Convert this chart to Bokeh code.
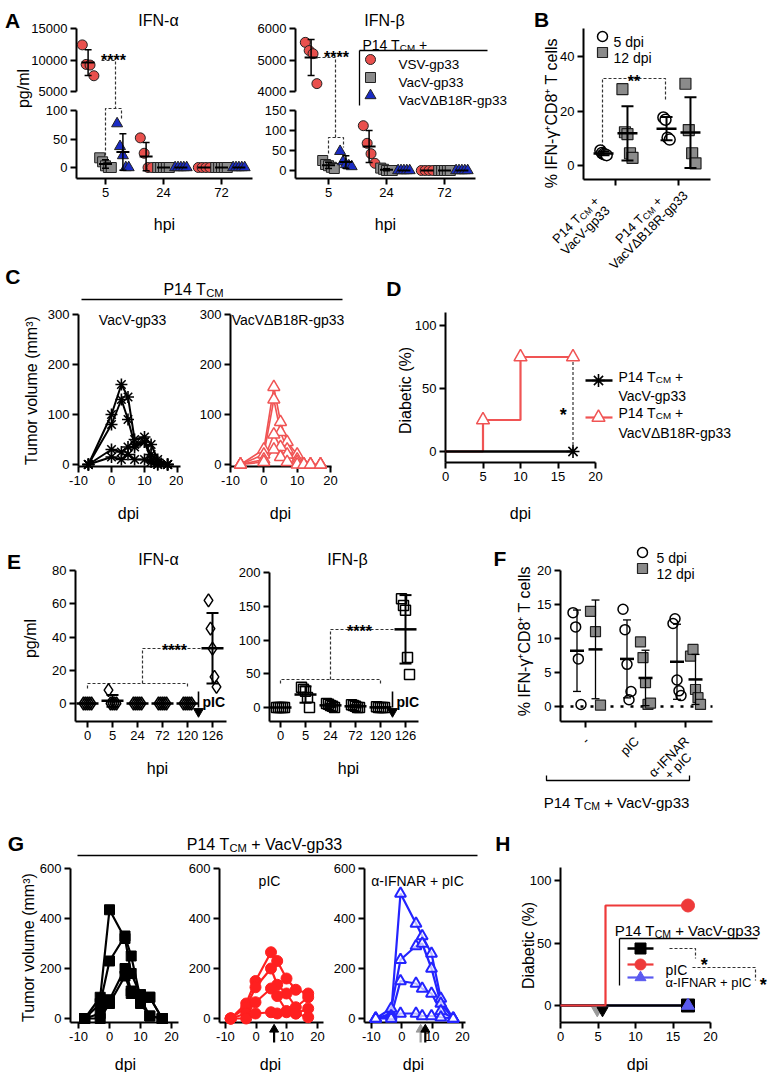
import numpy as np
from math import pi, cos, sin
from bokeh.plotting import figure
from bokeh.models import Range1d, LinearAxis, FixedTicker, Label
from bokeh.layouts import row, column
from bokeh.embed import file_html
from bokeh.resources import INLINE

FONT = "Liberation Sans"

# ============================ DATA ============================
A_HPI = ["5", "24", "72"]
A_SERIES = ["VSV-gp33", "VacV-gp33", "VacVΔB18R-gp33"]
A_ALPHA_VSV = [[12400, 9300, 9200, 7500], [52, 25, 0, 0], [0, 0, 0, 0]]
A_ALPHA_VACV = [[17, 10, 3, 0, 0], [0, 0, 0, 0, 0], [0, 0, 0, 0, 0]]
A_ALPHA_DB18R = [[77, 37, 21, 0, 0], [0, 0, 0, 0, 0], [0, 0, 0, 0, 0]]
A_BETA_VSV = [[5560, 5300, 5200, 4250], [112, 68, 42, 18], [0, 0, 0, 0]]
A_BETA_VACV = [[25, 15, 12, 8, 5], [6, 3, 0, 0, 0], [0, 0, 0, 0, 0]]
A_BETA_DB18R = [[48, 22, 15, 12, 10], [0, 0, 0, 0, 0], [0, 0, 0, 0, 0]]

B_VIRUS = ["VacV-gp33", "VacVΔB18R-gp33"]
B_5DPI = [[5.5, 4.6, 4.2, 4.0, 3.8], [17.6, 16.8, 10.2, 9.5]]
B_12DPI = [[28.0, 12.2, 11.5, 4.5, 2.8], [30.0, 13.0, 4.5, 0.8]]

C_DPI = [-7, 0, 3, 5, 7, 10, 12, 14, 17]
C_VACV = [[0, 100, 160, 135, 50, 55, 40, 10, 0],
          [0, 80, 130, 90, 40, 45, 20, 5, 0],
          [0, 30, 25, 35, 35, 45, 10, 0, 0],
          [0, 15, 10, 20, 10, 10, 5, 0, 0]]
C_DB18R = [[0, 30, 155, 85, 45, 20, 0, 0, 0],
           [0, 20, 130, 65, 30, 10, 0, 0, 0],
           [0, 10, 60, 35, 20, 5, 0, 0, 0],
           [0, 5, 30, 15, 5, 0, 0, 0, 0]]

D_VACV_DAYS = [0, 17]
D_VACV = [0, 0]
D_DB18R_DAYS = [0, 5, 10, 17]
D_DB18R = [0, 25, 75, 75]

E_HPI = ["0", "5", "24", "72", "120", "126"]
E_ALPHA = [[0, 0, 0, 0, 0], [8, 0, 0, 0, 0], [0, 0, 0, 0, 0], [0, 0, 0, 0, 0],
           [0, 0, 0, 0, 0], [62, 45, 33, 16, 10]]
E_BETA = [[0, 0, 0, 0, 0], [30, 27, 24, 15, 0], [6, 5, 3, 2, 0], [4, 3, 2, 0, 0],
          [1, 0, 0, 0, 0], [161, 151, 144, 74, 49]]

F_GROUPS = [["-"], ["pIC"], ["α-IFNAR", "+ pIC"]]
F_5DPI = [[13.8, 11.7, 7.0, 0.3], [14.3, 11.3, 6.2, 1.0, 2.2], [12.2, 12.9, 3.9, 2.3, 1.6]]
F_12DPI = [[14.0, 11.0, 0.2], [9.5, 7.2, 3.5, 0.3, 0.5], [7.4, 8.4, 2.5, 1.3, 0.3]]

G_DPI = [-8, -3, 0, 5, 7, 10, 13, 17]
G_CTRL = [[0, 85, 435, 320, 180, 95, 85, 0],
          [0, 60, 230, 330, 250, 80, 10, 0],
          [0, 20, 75, 200, 110, 95, 85, 0],
          [0, 0, 60, 170, 100, 60, 10, 0]]
G_PIC = [[0, 60, 150, 265, 230, 160, 115, 100],
         [0, 45, 125, 200, 135, 100, 45, 85],
         [0, 20, 65, 120, 90, 30, 20, 40],
         [0, 0, 20, 25, 20, 25, 20, 5]]
G_IFNAR = [[0, 20, 500, 380, 330, 260, 80, 0],
           [0, 40, 235, 290, 300, 200, 60, 0],
           [0, 10, 150, 140, 120, 100, 30, 0],
           [0, 0, 20, 20, 10, 10, 5, 0]]
G_PIC_DAY = [6.0]
G_IFNAR_DAY = [6.5]
G_PIC_DAY_IFNAR = [8.0]

H_CTRL_DAYS = [0, 17]
H_CTRL = [0, 0]
H_PIC_DAYS = [0, 6, 17]
H_PIC = [0, 80, 80]
H_IFNAR_DAYS = [0, 17]
H_IFNAR = [0, 0]
H_IFNAR_INJ = [4.9]
H_PIC_INJ = [5.6]

# ============================ STYLE / HELPERS ============================
RED_A, GREY, BLUE_A = "#e9504d", "#8b8b8b", "#1a2bc4"
RED_C, RED_G, BLUE_G = "#f05454", "#ff2020", "#2424ff"
RED_H, BLUE_H = "#ee3a3a", "#5a5af0"
DASH = "3 2"
DCOL = "#333333"
SUB = 0.7
W_TOT, H_TOT = 774, 1072

UP = dict(zip("ABCDEFGHIJKLMNOPQRSTUVWXYZ",
              [.667, .667, .722, .722, .667, .611, .778, .722, .278, .5, .667, .556, .833,
               .722, .778, .667, .778, .722, .667, .611, .722, .667, .944, .667, .667, .611]))
LO = dict(zip("abcdefghijklmnopqrstuvwxyz",
              [.556, .556, .5, .556, .556, .278, .556, .556, .222, .222, .5, .222, .833,
               .556, .556, .556, .556, .333, .5, .278, .556, .5, .722, .5, .5, .5]))
OTHER = {' ': .278, '+': .584, '-': .333, '%': .889, '(': .333, ')': .333, '/': .278,
         '.': .278, '*': .389, 'α': .578, 'β': .575, 'γ': .5, 'Δ': .668, '⁺': .35, '³': .333}


def tw(s, size):
    t = 0.0
    for c in s:
        if c in UP:
            t += UP[c]
        elif c in LO:
            t += LO[c]
        elif c.isdigit():
            t += .556
        else:
            t += OTHER.get(c, .556)
    return t * size


def rng(pa, va, pb, vb, f0, f1):
    k = (vb - va) / (pb - pa)
    return (va + (f0 - pa) * k, va + (f1 - pa) * k)


# overlay figure covering the whole page: all marks are drawn here through per-panel ranges
ov = figure(width=W_TOT, height=H_TOT, x_range=Range1d(0, W_TOT), y_range=Range1d(H_TOT, 0),
            output_backend="svg", toolbar_location=None,
            x_axis_location=None, y_axis_location=None,
            min_border_left=0, min_border_right=0, min_border_top=0, min_border_bottom=0)
ov.outline_line_color = None
ov.background_fill_color = None
ov.border_fill_color = None
ov.xgrid.visible = False
ov.ygrid.visible = False
ov.margin = (-H_TOT, 0, 0, 0)
EXTRA_X, EXTRA_Y = {}, {}


class Panel:
    n = 0

    def __init__(self, box, frame, xr, yr):
        x0, y0, x1, y1 = box
        fx0, fy0, fx1, fy1 = frame
        self.f = frame
        self.xr = xr
        self.yr = yr
        p = figure(width=x1 - x0, height=y1 - y0, x_range=Range1d(*xr), y_range=Range1d(*yr),
                   output_backend="svg", toolbar_location=None,
                   x_axis_location=None, y_axis_location=None,
                   min_border_left=fx0 - x0, min_border_right=x1 - fx1,
                   min_border_top=fy0 - y0, min_border_bottom=y1 - fy1)
        p.outline_line_color = None
        p.background_fill_color = "white"
        p.border_fill_color = "white"
        p.xgrid.visible = False
        p.ygrid.visible = False
        self.p = p
        self.w = column(p)
        Panel.n += 1
        self.xn, self.yn = f"px{Panel.n}", f"py{Panel.n}"
        EXTRA_X[self.xn] = Range1d(self.X(0), self.X(W_TOT))
        EXTRA_Y[self.yn] = Range1d(self.Y(H_TOT), self.Y(0))

    def X(self, px):
        fx0, _, fx1, _ = self.f
        return self.xr[0] + (px - fx0) * (self.xr[1] - self.xr[0]) / (fx1 - fx0)

    def Y(self, py):
        _, fy0, _, fy1 = self.f
        return self.yr[0] + (fy1 - py) * (self.yr[1] - self.yr[0]) / (fy1 - fy0)

    def wx(self, d):
        return d * (self.xr[1] - self.xr[0]) / (self.f[2] - self.f[0])

    def kw(self):
        return dict(x_range_name=self.xn, y_range_name=self.yn)


def add_axis(P, side, ticks, labels=None, bounds=None):
    ax = LinearAxis(ticker=FixedTicker(ticks=[float(t) for t in ticks]))
    if labels is None:
        labels = [str(int(t)) for t in ticks]
    ax.major_label_overrides = {float(t): l for t, l in zip(ticks, labels)}
    ax.axis_line_width = 2
    ax.axis_line_color = "black"
    ax.major_tick_line_width = 2
    ax.major_tick_line_color = "black"
    ax.major_tick_out = 6
    ax.major_tick_in = 0
    ax.minor_tick_line_color = None
    ax.major_label_text_font = FONT
    ax.major_label_text_font_size = "13px"
    ax.major_label_text_color = "black"
    ax.major_label_standoff = 3
    if bounds is not None:
        ax.bounds = (float(bounds[0]), float(bounds[1]))
    P.p.add_layout(ax, side)


def rich(x, y, pieces, size=14, align="center", angle=0.0, bold=False, color="black"):
    ux, uy = cos(angle), -sin(angle)
    vx, vy = sin(angle), cos(angle)
    k = 1.08 if bold else 1.0
    ws = [tw(t, size * (SUB if sb else 1.0)) * k for t, sb in pieces]
    total = sum(ws)
    adv = {"left": 0.0, "center": -total / 2, "right": -total}[align]
    for (t, sb), w in zip(pieces, ws):
        fs = size * (SUB if sb else 1.0)
        lead = len(t) - len(t.lstrip(" "))
        a = adv + tw(" " * lead, fs)
        drop = 0.36 * size + (0.22 * size if sb else 0.0)
        s = t.strip(" ")
        if s:
            ov.add_layout(Label(x=x + a * ux + drop * vx, y=y + a * uy + drop * vy, text=s,
                                text_font=FONT, text_font_size=f"{fs:.1f}px",
                                text_font_style="bold" if bold else "normal",
                                text_color=color, text_align="left",
                                text_baseline="alphabetic", angle=angle))
        adv += w


def T(x, y, s, size=14, align="center", angle=0.0, bold=False, color="black"):
    rich(x, y, [(s, False)], size, align, angle, bold, color)


def tcm(pre, post):
    return [(pre + "T", False), ("CM", True), (post, False)]


def pline(pts, w=1.2, color="black", dash="solid"):
    ov.line([a for a, b in pts], [b for a, b in pts], line_width=w, line_color=color,
            line_dash=dash)


def mark(P, x, y, marker, size, fill, line="black", lw=1.0, alpha=1.0):
    kw = P.kw() if P is not None else {}
    ov.scatter(list(x), list(y), marker=marker, size=size, fill_color=fill,
               line_color=line, line_width=lw, fill_alpha=alpha, **kw)


def dline(P, x, y, w=2.0, color="black", dash="solid"):
    ov.line(list(x), list(y), line_width=w, line_color=color, line_dash=dash, **P.kw())


def spread(n, w):
    return np.zeros(1) if n == 1 else np.linspace(-w, w, n)


def meansd(P, xc, vals, mw=14, cwid=8, lwm=2.0, lwe=1.5):
    m = float(np.mean(vals))
    s = float(np.std(vals, ddof=1)) if len(vals) > 1 else 0.0
    hw, hc = P.wx(mw) / 2, P.wx(cwid) / 2
    if s > 0:
        ov.segment([xc, xc - hc, xc - hc], [m - s, m + s, m - s],
                   [xc, xc + hc, xc + hc], [m + s, m + s, m - s],
                   line_width=lwe, line_color="black", **P.kw())
    ov.segment([xc - hw], [m], [xc + hw], [m], line_width=lwm, line_color="black", **P.kw())


# ============================ ROW 1 : A, B ============================
Aat = Panel((0, 0, 254, 101), (76, 28, 252, 101), rng(105, 0, 163, 1, 76, 252),
            rng(91, 5000, 28, 15000, 101, 28))
Aab = Panel((0, 101, 254, 255), (76, 103, 252, 178), rng(105, 0, 163, 1, 76, 252),
            rng(167, 0, 110, 100, 178, 103))
Abt = Panel((254, 0, 518, 101), (295, 28, 475, 101), rng(328, 0, 386, 1, 295, 475),
            rng(91, 4000, 28, 6000, 101, 28))
Abb = Panel((254, 101, 518, 255), (295, 103, 475, 178), rng(328, 0, 386, 1, 295, 475),
            rng(170, 0, 110, 150, 178, 103))
add_axis(Aat, "left", [5000, 10000, 15000], bounds=(5000, 15000))
add_axis(Aab, "left", [0, 50, 100], bounds=(Aab.yr[0], 100))
add_axis(Aab, "below", [0, 1, 2], A_HPI)
add_axis(Abt, "left", [4000, 5000, 6000], bounds=(4000, 6000))
add_axis(Abb, "left", [0, 50, 100, 150], bounds=(Abb.yr[0], 150))
add_axis(Abb, "below", [0, 1, 2], A_HPI)

# significance brackets
pline([(101, 60), (115, 60), (115, 108)], 1.2, DCOL, DASH)
pline([(105, 160), (105, 108), (121, 108), (121, 118)], 1.2, DCOL, DASH)
T(114, 54, "****", 16, bold=True)
pline([(312, 57), (335, 57), (335, 137)], 1.2, DCOL, DASH)
pline([(328, 153), (328, 137), (343, 137), (343, 147)], 1.2, DCOL, DASH)
T(337, 51, "****", 16, bold=True)


def draw_A(top, bot, series, thresh):
    specs = [("circle", RED_A, -0.3, 10), ("square", GREY, 0.0, 10), ("triangle", BLUE_A, 0.3, 11)]
    for gi in range(3):
        for vals_all, (mk, col, off, sz) in zip(series, specs):
            vals = vals_all[gi]
            xs = gi + off + spread(len(vals), 0.1)
            for P, sel in ((top, [v >= thresh for v in vals]), (bot, [v < thresh for v in vals])):
                px = [x for x, s in zip(xs, sel) if s]
                py = [v for v, s in zip(vals, sel) if s]
                if px:
                    mark(P, px, py, mk, sz, col, "#222222", 1.0)
    for gi in range(3):
        for vals_all, (mk, col, off, sz) in zip(series, specs):
            vals = vals_all[gi]
            P = top if np.mean(vals) >= thresh else bot
            meansd(P, gi + off, vals, 13, 7, 2.0, 1.5)


draw_A(Aat, Aab, [A_ALPHA_VSV, A_ALPHA_VACV, A_ALPHA_DB18R], 1000)
draw_A(Abt, Abb, [A_BETA_VSV, A_BETA_VACV, A_BETA_DB18R], 1000)

T(12, 12, "A", 21, bold=True)
T(158, 14, "IFN-α", 16)
T(384, 14, "IFN-β", 16)
T(17, 88, "pg/ml", 16, angle=pi / 2)
T(164, 218, "hpi", 16)
T(385, 218, "hpi", 16)

rich(362, 39, tcm("P14 ", " +"), 14, "left")
pline([(359, 50), (487, 50)], 1.3)
pline([(359, 50), (359, 105)], 1.3)
for (mk, col, sz), yy, name in zip([("circle", RED_A, 10), ("square", GREY, 10), ("triangle", BLUE_A, 11)],
                                   [59, 77, 95], A_SERIES):
    mark(None, [370], [yy], mk, sz, col, "#222222", 1.0)
    T(398, yy, name, 13.5, "left")

# ---- B ----
B = Panel((518, 0, 774, 255), (583, 28, 710, 179), rng(615, 1, 678, 2, 583, 710),
          rng(165, 0, 56, 40, 179, 28))
add_axis(B, "left", [0, 20, 40])
add_axis(B, "below", [1, 2], ["", ""])
pline([(602, 147), (602, 78), (665, 78), (665, 100)], 1.2, DCOL, DASH)
T(634, 75, "**", 16, bold=True)
for gi, (c5, c12) in enumerate(zip(B_5DPI, B_12DPI)):
    xc = gi + 1
    mark(B, xc - 0.19 + spread(len(c5), 0.05), c5, "circle", 11, "white", "black", 1.5)
    mark(B, xc + 0.19 + spread(len(c12), 0.08), c12, "square", 11, GREY, "#222222", 1.2)
    meansd(B, xc - 0.19, c5, 20, 12, 2.5, 2.0)
    meansd(B, xc + 0.19, c12, 20, 12, 2.5, 2.0)
mark(None, [602], [36], "circle", 10, "white", "black", 1.5)
mark(None, [602], [52], "square", 10, GREY, "#222222", 1.2)
T(613, 36, "5 dpi", 14, "left")
T(613, 52, "12 dpi", 14, "left")
T(545, 112, "% IFN-γ⁺CD8⁺ T cells", 16, angle=pi / 2)
T(541, 11, "B", 21, bold=True)
for tx, vname in zip([615, 678], B_VIRUS):
    rich(tx - 43, 216, tcm("P14 ", " +"), 13, "center", angle=pi / 4)
    T(tx - 33, 226, vname, 13, angle=pi / 4)

# ============================ ROW 2 : C, D ============================
yC = rng(464, 0, 314, 300, 466, 314)
Cl = Panel((0, 255, 183, 515), (78, 314, 180, 466), rng(78, -10, 177, 20, 78, 180), yC)
Cr = Panel((183, 255, 385, 515), (230, 314, 331, 466), rng(230, -10, 330, 20, 230, 331), yC)
for P in (Cl, Cr):
    add_axis(P, "left", [0, 100, 200, 300])
    add_axis(P, "below", [-10, 0, 10, 20])
for tr in C_VACV:
    dline(Cl, C_DPI, tr, 2.0, "black")
    mark(Cl, C_DPI, tr, "asterisk", 12, None, "black", 1.6)
for tr in C_DB18R:
    dline(Cr, C_DPI, tr, 1.6, RED_C)
for tr in C_DB18R:
    mark(Cr, C_DPI, tr, "triangle", 12, "white", RED_C, 1.5)
T(13, 268, "C", 21, bold=True)
rich(193, 283, tcm("P14 ", ""), 16, "center")
pline([(81, 299), (342, 299)], 1.3)
T(133, 314, "VacV-gp33", 14)
T(288, 314, "VacVΔB18R-gp33", 14)
T(25, 388, "Tumor volume (mm³)", 16, angle=pi / 2)
T(128, 507, "dpi", 16)
T(280, 507, "dpi", 16)

D = Panel((385, 255, 774, 515), (445, 312, 595, 462), rng(445, 0, 595, 20, 445, 595),
          rng(451, 0, 325, 100, 462, 312))
add_axis(D, "left", [0, 50, 100])
add_axis(D, "below", [0, 5, 10, 15, 20])
ov.segment([D_DB18R_DAYS[-1]], [D_DB18R[-1]], [D_VACV_DAYS[-1]], [D_VACV[-1]],
           line_width=1.2, line_color=DCOL, line_dash=DASH, **D.kw())
ov.step(D_DB18R_DAYS, D_DB18R, mode="after", line_width=2.2, line_color=RED_C, **D.kw())
dline(D, D_VACV_DAYS, D_VACV, 2.5, "black")
mark(D, D_DB18R_DAYS[1:], D_DB18R[1:], "triangle", 13, "white", RED_C, 1.5)
mark(D, [D_VACV_DAYS[-1]], [D_VACV[-1]], "asterisk", 13, None, "black", 1.6)
T(563, 408, "*", 18, bold=True)
T(394, 280, "D", 21, bold=True)
T(399, 390, "Diabetic (%)", 16, angle=pi / 2)
T(520, 507, "dpi", 16)
pline([(585, 380), (612, 380)], 2.5, "black")
mark(None, [598], [380], "asterisk", 13, None, "black", 1.6)
rich(618, 371, tcm("P14 ", " +"), 14, "left")
T(618, 390, "VacV-gp33", 14, "left")
pline([(585, 417), (612, 417)], 2.2, RED_C)
mark(None, [598], [417], "triangle", 13, "white", RED_C, 1.5)
rich(618, 407, tcm("P14 ", " +"), 14, "left")
T(618, 427, "VacVΔB18R-gp33", 14, "left")

# ============================ ROW 3 : E, F ============================
Ea = Panel((0, 515, 228, 815), (75, 570, 226, 721), rng(87, 0, 112, 1, 75, 226),
           rng(703, 0, 570, 80, 721, 570))
Eb = Panel((228, 515, 430, 815), (269, 572, 418, 721), rng(280, 0, 305, 1, 269, 418),
           rng(707, 0, 572, 200, 721, 572))
add_axis(Ea, "left", [0, 20, 40, 60, 80])
add_axis(Ea, "below", list(range(6)), E_HPI)
add_axis(Eb, "left", [0, 50, 100, 150, 200])
add_axis(Eb, "below", list(range(6)), E_HPI)

pline([(87, 688), (87, 683), (187, 683), (187, 688)], 1.2, DCOL, DASH)
pline([(142, 683), (142, 648), (212, 648)], 1.2, DCOL, DASH)
T(175, 644, "****", 16, bold=True)
pline([(280, 683), (280, 679), (380, 679), (380, 683)], 1.2, DCOL, DASH)
pline([(330, 679), (330, 629), (405, 629)], 1.2, DCOL, DASH)
T(360, 625, "****", 16, bold=True)

for P, data, mk, sz in ((Ea, E_ALPHA, "diamond", 13), (Eb, E_BETA, "square", 10)):
    for gi, vals in enumerate(data):
        mark(P, gi + spread(len(vals), 0.16), vals, mk, sz, None, "black", 1.5)
    for gi, vals in enumerate(data):
        meansd(P, gi, vals, 22, 12, 2.5, 2.0)

for ax in (198, 392):
    pline([(ax, 691), (ax, 707)], 1.6)
    mark(None, [ax], [711], "inverted_triangle", 10, "black", "black", 1.0)
    T(ax + 4, 696, "pIC", 14, "left", bold=True)

T(14, 553, "E", 21, bold=True)
T(158, 553, "IFN-α", 16)
T(347, 553, "IFN-β", 16)
T(24, 638, "pg/ml", 16, angle=pi / 2)
T(157, 762, "hpi", 16)
T(348, 762, "hpi", 16)

F = Panel((430, 515, 774, 815), (560, 570, 712, 721), rng(585, 0, 635, 1, 560, 712),
          rng(706, 0, 570, 20, 721, 570))
add_axis(F, "left", [0, 5, 10, 15, 20])
add_axis(F, "below", [0, 1, 2], ["", "", ""])
ov.segment([F.xr[0]], [0], [F.xr[1]], [0], line_width=2.5, line_color="black",
           line_dash="3 7", **F.kw())
for gi, (c5, c12) in enumerate(zip(F_5DPI, F_12DPI)):
    mark(F, gi - 0.17 + spread(len(c5), 0.08), c5, "circle", 10, None, "black", 1.5)
    mark(F, gi + 0.2 + spread(len(c12), 0.1), c12, "square", 10, GREY, "#222222", 1.2)
    meansd(F, gi - 0.17, c5, 14, 8, 2.5, 1.3)
    meansd(F, gi + 0.2, c12, 14, 8, 2.5, 1.3)
mark(None, [642], [552], "circle", 10, "white", "black", 1.5)
mark(None, [642], [568], "square", 10, GREY, "#222222", 1.2)
T(656, 552, "5 dpi", 14, "left")
T(656, 568, "12 dpi", 14, "left")
T(500, 550, "F", 21, bold=True)
T(518, 640, "% IFN-γ⁺CD8⁺ T cells", 16, angle=pi / 2)

ang = pi / 4
u = (cos(ang), -sin(ang))
v = (sin(ang), cos(ang))
for tx, lines in zip([585, 635, 685], F_GROUPS):
    ex, ey = tx - 2, 735
    w1 = tw(lines[0], 13)
    cx, cy = ex - w1 / 2 * u[0], ey - w1 / 2 * u[1]
    for k, ln in enumerate(lines):
        T(cx + 13 * k * v[0], cy + 13 * k * v[1], ln, 13, angle=ang)
pline([(546, 775), (546, 780), (689, 780), (689, 775)], 1.3)
rich(617, 797, tcm("P14 ", " + VacV-gp33"), 15, "center")

# ============================ ROW 4 : G, H ============================
yG = rng(1018, 0, 868, 600, 1022, 868)
G1 = Panel((0, 815, 185, 1072), (70, 868, 178, 1022), rng(109, 0, 171, 20, 70, 178), yG)
G2 = Panel((185, 815, 330, 1072), (218, 868, 323, 1022), rng(255, 0, 317, 20, 218, 323), yG)
G3 = Panel((330, 815, 480, 1072), (362, 868, 465, 1022), rng(400, 0, 462, 20, 362, 465), yG)
for P in (G1, G2, G3):
    add_axis(P, "left", [0, 200, 400, 600], bounds=(yG[0], 600))
    add_axis(P, "below", [-10, 0, 10, 20])
for tr in G_CTRL:
    dline(G1, G_DPI, tr, 2.2, "black")
    mark(G1, G_DPI, tr, "square", 10, "black", "black", 1.0)
for tr in G_PIC:
    dline(G2, G_DPI, tr, 2.2, RED_G)
    mark(G2, G_DPI, tr, "circle", 11, RED_G, RED_G, 1.0)
for tr in G_IFNAR:
    dline(G3, G_DPI, tr, 2.2, BLUE_G)
for tr in G_IFNAR:
    mark(G3, G_DPI, tr, "triangle", 11, "white", BLUE_G, 2.0, 0.7)
for P, days, col in ((G2, G_PIC_DAY, "black"), (G3, G_IFNAR_DAY, "#9a9a9a"),
                     (G3, G_PIC_DAY_IFNAR, "black")):
    for d in days:
        ov.segment([d], [P.Y(1042)], [d], [P.Y(1031)], line_width=2.2, line_color=col, **P.kw())
        mark(P, [d], [P.Y(1029)], "triangle", 9, col, col, 1.0)
T(16, 835, "G", 21, bold=True)
rich(265, 838, tcm("P14 ", " + VacV-gp33"), 16, "center")
pline([(77, 855), (477, 855)], 1.3)
T(269, 875, "pIC", 14)
T(417, 875, "α-IFNAR + pIC", 14)
T(22, 945, "Tumor volume (mm³)", 16, angle=pi / 2)
T(125, 1058, "dpi", 16)
T(270, 1058, "dpi", 16)
T(413, 1058, "dpi", 16)

H = Panel((480, 815, 774, 1072), (560, 867, 710, 1022), rng(560, 0, 710, 20, 560, 710),
          rng(1005, 0, 880, 100, 1022, 867))
add_axis(H, "left", [0, 50, 100])
add_axis(H, "below", [0, 5, 10, 15, 20])
dline(H, H_IFNAR_DAYS, H_IFNAR, 2.2, BLUE_H)
dline(H, H_CTRL_DAYS, H_CTRL, 2.5, "black")
ov.step(H_PIC_DAYS, H_PIC, mode="after", line_width=2.2, line_color=RED_H, **H.kw())
mark(H, [H_CTRL_DAYS[-1]], [H_CTRL[-1]], "square", 13, "black", "black", 1.0)
mark(H, [H_IFNAR_DAYS[-1]], [H_IFNAR[-1]], "triangle", 13, BLUE_H, BLUE_H, 1.0)
mark(H, [H_PIC_DAYS[-1]], [H_PIC[-1]], "circle", 13, RED_H, RED_H, 1.0)
mark(H, H_IFNAR_INJ, [H.Y(1010)], "inverted_triangle", 11, "#9a9a9a", "#9a9a9a", 1.0)
mark(H, H_PIC_INJ, [H.Y(1010)], "inverted_triangle", 11, "black", "black", 1.0)
T(503, 835, "H", 21, bold=True)
T(522, 945, "Diabetic (%)", 16, angle=pi / 2)
T(637, 1058, "dpi", 16)
rich(688, 925, tcm("P14 ", " + VacV-gp33"), 15, "center")
pline([(619, 938), (757, 938)], 1.3)
pline([(619, 938), (619, 985)], 1.3)
pline([(627, 948), (653, 948)], 2.5, "black")
mark(None, [640], [948], "square", 11, "black", "black", 1.0)
pline([(627, 964), (653, 964)], 2.2, RED_H)
mark(None, [640], [964], "circle", 11, RED_H, RED_H, 1.0)
pline([(627, 977), (653, 977)], 2.2, BLUE_H)
mark(None, [640], [977], "triangle", 11, BLUE_H, BLUE_H, 1.0)
T(665, 964, "pIC", 14, "left")
T(665, 977, "α-IFNAR + pIC", 13, "left")
pline([(669, 948), (695, 948), (695, 958)], 1.2, DCOL, DASH)
pline([(692, 967), (755, 967), (755, 980)], 1.2, DCOL, DASH)
T(704, 958, "*", 18, bold=True)
T(763, 978, "*", 18, bold=True)

# ============================ LAYOUT ============================
ov.extra_x_ranges = EXTRA_X
ov.extra_y_ranges = EXTRA_Y

main = column(
    row(column(Aat.w, Aab.w), column(Abt.w, Abb.w), B.w),
    row(Cl.w, Cr.w, D.w),
    row(Ea.w, Eb.w, F.w),
    row(G1.w, G2.w, G3.w, H.w),
)
root = column(main, ov)

open("out.html", "w").write(file_html(root, INLINE))
